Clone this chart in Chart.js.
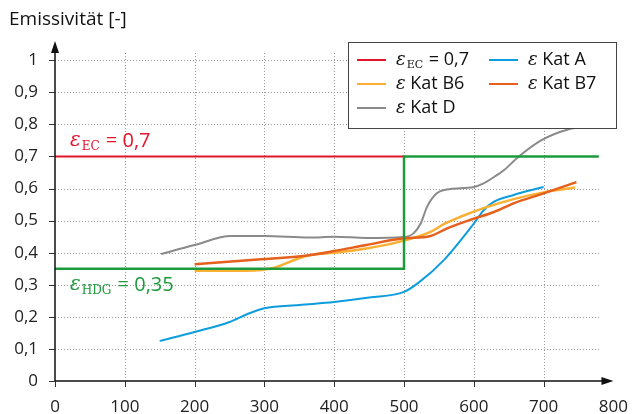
<!DOCTYPE html>
<html>
<head>
<meta charset="utf-8">
<script src="https://cdn.jsdelivr.net/npm/chart.js@4"></script>
<style>
  html, body { margin: 0; padding: 0; background: #fff; }
  #wrap { width: 636px; height: 414px; position: relative; }
</style>
</head>
<body>
<div id="wrap"><canvas id="chart"></canvas></div>
<script>
// x values (temperature) and emissivity readings per category
const xTicks = [0, 100, 200, 300, 400, 500, 600, 700, 800];
const yTicks = [0, 0.1, 0.2, 0.3, 0.4, 0.5, 0.6, 0.7, 0.8, 0.9, 1];

const katAx = [150, 200, 250, 275, 300, 350, 400, 450, 500, 520, 557, 600, 614, 629, 657, 700];
const katAy = [0.125, 0.153, 0.184, 0.208, 0.227, 0.237, 0.246, 0.26, 0.278, 0.305, 0.377, 0.491, 0.532, 0.559, 0.58, 0.605];

const katB6x = [200, 274, 314, 340, 364, 400, 446, 497, 538, 557, 581, 614, 657, 700, 745];
const katB6y = [0.344, 0.344, 0.353, 0.375, 0.392, 0.4, 0.413, 0.436, 0.465, 0.489, 0.512, 0.539, 0.567, 0.588, 0.603];

const katB7x = [200, 300, 364, 400, 446, 497, 538, 561, 600, 629, 657, 700, 747];
const katB7y = [0.364, 0.38, 0.392, 0.405, 0.424, 0.444, 0.452, 0.475, 0.506, 0.527, 0.554, 0.585, 0.62];

const katDx = [152, 200, 252, 300, 364, 400, 446, 500, 514, 524, 533, 547, 561, 600, 614, 629, 643, 664, 697, 736, 750];
const katDy = [0.396, 0.424, 0.452, 0.452, 0.447, 0.45, 0.446, 0.449, 0.461, 0.492, 0.543, 0.585, 0.597, 0.605, 0.616, 0.636, 0.657, 0.699, 0.751, 0.785, 0.79];

const ecLevel = 0.7;
const hdgLevel = 0.35;
const stepAt = 500;
const lineEnd = 779;

const colors = {
  ec: "#e4142c",
  hdg: "#1c9a3c",
  a: "#0d9ddf",
  b6: "#fbb034",
  b7: "#e5601c",
  d: "#8a8a8a"
};

const pts = (xs, ys) => xs.map((x, i) => ({ x: x, y: ys[i] }));
const sans = '"Open Sans", "Noto Sans", sans-serif';

function drawEps(ctx, x, y, sub, rest, color, size) {
  ctx.fillStyle = color;
  ctx.textBaseline = "middle";
  ctx.textAlign = "left";
  ctx.font = "italic " + size + 'px "DejaVu Serif"';
  ctx.fillText("\u03b5", x, y);
  x += ctx.measureText("\u03b5").width;
  if (sub) {
    ctx.font = Math.round(size * 0.6) + 'px "DejaVu Serif"';
    ctx.fillText(sub, x + 1, y + size * 0.28);
    x += ctx.measureText(sub).width + 2;
  }
  ctx.font = size + "px " + sans;
  ctx.fillText(rest, x, y);
}

// grid, axes with arrows, tick marks, title, annotations and legend
const decor = {
  id: "decor",
  beforeDatasetsDraw(chart) {
    const ctx = chart.ctx;
    const xs = chart.scales.x, ys = chart.scales.y;
    ctx.save();
    ctx.strokeStyle = "#9a9a9a";
    ctx.lineWidth = 1;
    ctx.setLineDash([1, 2]);
    yTicks.slice(1).forEach(v => {
      const py = Math.round(ys.getPixelForValue(v)) + 0.5;
      ctx.beginPath();
      ctx.moveTo(xs.getPixelForValue(0), py);
      ctx.lineTo(xs.getPixelForValue(lineEnd), py);
      ctx.stroke();
    });
    xTicks.slice(1, -1).forEach(v => {
      const px = Math.round(xs.getPixelForValue(v)) + 0.5;
      ctx.beginPath();
      ctx.moveTo(px, ys.getPixelForValue(0));
      ctx.lineTo(px, ys.getPixelForValue(1.025));
      ctx.stroke();
    });
    ctx.restore();
  },
  afterDatasetsDraw(chart) {
    const ctx = chart.ctx;
    const xs = chart.scales.x, ys = chart.scales.y;
    const x0 = xs.getPixelForValue(0), y0 = ys.getPixelForValue(0);
    const xEnd = xs.getPixelForValue(800), yTop = chart.chartArea.top;
    ctx.save();
    ctx.strokeStyle = "#111";
    ctx.fillStyle = "#111";
    ctx.lineWidth = 1.5;
    // axes
    ctx.beginPath();
    ctx.moveTo(x0, y0); ctx.lineTo(xEnd - 8, y0);
    ctx.moveTo(x0, y0); ctx.lineTo(x0, yTop + 8);
    ctx.stroke();
    ctx.beginPath();
    ctx.moveTo(xEnd, y0); ctx.lineTo(xEnd - 12, y0 - 4); ctx.lineTo(xEnd - 12, y0 + 4); ctx.closePath();
    ctx.fill();
    ctx.beginPath();
    ctx.moveTo(x0, yTop); ctx.lineTo(x0 - 4, yTop + 12); ctx.lineTo(x0 + 4, yTop + 12); ctx.closePath();
    ctx.fill();
    // tick marks
    ctx.lineWidth = 1;
    ctx.strokeStyle = "#333";
    ctx.beginPath();
    yTicks.forEach(v => {
      const py = Math.round(ys.getPixelForValue(v)) + 0.5;
      ctx.moveTo(x0 - 6, py); ctx.lineTo(x0, py);
    });
    xTicks.slice(0, -1).forEach(v => {
      const px = Math.round(xs.getPixelForValue(v)) + 0.5;
      ctx.moveTo(px, y0); ctx.lineTo(px, y0 + 6);
    });
    ctx.stroke();

    // title
    ctx.fillStyle = "#111";
    ctx.font = "19px " + sans;
    ctx.textBaseline = "middle";
    ctx.textAlign = "left";
    ctx.fillText("Emissivit\u00e4t [-]", 9, 20);

    // annotations
    drawEps(ctx, 70, 141, "EC", " = 0,7", colors.ec, 20);
    drawEps(ctx, 70, 285, "HDG", " = 0,35", colors.hdg, 20);

    // legend box
    const lx = 348, ly = 42, lw = 268, lh = 86;
    ctx.fillStyle = "#fff";
    ctx.fillRect(lx, ly, lw, lh);
    ctx.strokeStyle = "#444";
    ctx.lineWidth = 1;
    ctx.strokeRect(lx + 0.5, ly + 0.5, lw, lh);
    const items = [
      { c: colors.ec, sub: "EC", t: " = 0,7", x: 357, y: 60 },
      { c: colors.a, sub: "", t: " Kat A", x: 489, y: 60 },
      { c: colors.b6, sub: "", t: " Kat B6", x: 357, y: 84 },
      { c: colors.b7, sub: "", t: " Kat B7", x: 489, y: 84 },
      { c: colors.d, sub: "", t: " Kat D", x: 357, y: 108 }
    ];
    items.forEach(it => {
      ctx.strokeStyle = it.c;
      ctx.lineWidth = 2;
      ctx.beginPath();
      ctx.moveTo(it.x, it.y); ctx.lineTo(it.x + 29, it.y);
      ctx.stroke();
      drawEps(ctx, it.x + 39, it.y, it.sub, it.t, "#111", 18);
    });
    ctx.restore();
  }
};

const lineDs = (label, data, color, extra) => Object.assign({
  label: label,
  data: data,
  borderColor: color,
  borderWidth: 2,
  pointRadius: 0,
  fill: false,
  cubicInterpolationMode: "monotone"
}, extra || {});

new Chart(document.getElementById("chart"), {
  type: "line",
  data: {
    datasets: [
      lineDs("HDG", [
        { x: 0, y: hdgLevel }, { x: stepAt, y: hdgLevel },
        { x: stepAt, y: ecLevel }, { x: lineEnd, y: ecLevel }
      ], colors.hdg, { cubicInterpolationMode: "default", tension: 0, borderWidth: 2.5 }),
      lineDs("\u03b5 Kat B7", pts(katB7x, katB7y), colors.b7, { borderWidth: 2.5 }),
      lineDs("\u03b5 Kat B6", pts(katB6x, katB6y), colors.b6, { borderWidth: 2.5 }),
      lineDs("\u03b5 Kat A", pts(katAx, katAy), colors.a),
      lineDs("\u03b5 Kat D", pts(katDx, katDy), colors.d),
      lineDs("\u03b5EC = 0,7", [{ x: 0, y: ecLevel }, { x: stepAt, y: ecLevel }], colors.ec,
        { cubicInterpolationMode: "default", tension: 0 })
    ]
  },
  options: {
    responsive: true,
    maintainAspectRatio: false,
    animation: false,
    layout: { padding: { top: 41, right: 21, left: 0, bottom: 0 } },
    plugins: { legend: { display: false }, tooltip: { enabled: false } },
    scales: {
      x: {
        type: "linear",
        min: 0,
        max: 800,
        grid: { display: false },
        border: { display: false },
        afterBuildTicks: s => { s.ticks = xTicks.map(v => ({ value: v })); },
        afterFit: s => { s.height = 33; },
        ticks: {
          color: "#222",
          padding: 8,
          maxRotation: 0,
          font: { family: sans, size: 17 }
        }
      },
      y: {
        min: 0,
        max: 1.06,
        grid: { display: false },
        border: { display: false },
        afterBuildTicks: s => { s.ticks = yTicks.map(v => ({ value: v })); },
        afterFit: s => { s.width = 55; },
        ticks: {
          color: "#222",
          padding: 9,
          font: { family: sans, size: 17 },
          callback: v => String(Math.round(v * 10) / 10).replace(".", ",")
        }
      }
    }
  },
  plugins: [decor]
});
</script>
</body>
</html>
